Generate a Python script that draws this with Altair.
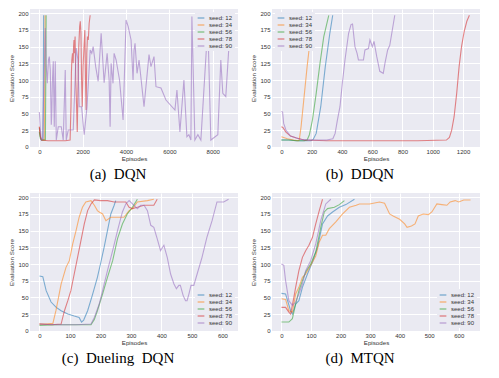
import altair as alt
import pandas as pd

SEEDS = ["seed: 12", "seed: 34", "seed: 56", "seed: 78", "seed: 90"]
COLORS = ["#1f77b4", "#ff7f0e", "#2ca02c", "#d62728", "#9467bd"]
Y_TICKS = [0, 25, 50, 75, 100, 125, 150, 175, 200]

# ---------------- (a) DQN ----------------
A_EP_12 = [0, 50, 100, 170, 185, 200]
A_SC_12 = [28, 14, 10, 10, 95, 197]
A_EP_34 = [0, 50, 100, 230, 250, 265]
A_SC_34 = [30, 15, 10, 10, 100, 197]
A_EP_56 = [0, 50, 100, 280, 300, 315]
A_SC_56 = [22, 12, 10, 10, 110, 197]
A_EP_78 = [0, 50, 100, 400, 800, 1200, 1420, 1460, 1480, 1500, 1530, 1560, 1580, 1600,
           1620, 1650, 1680, 1720, 1750, 1780, 1820, 1860, 1890, 1920, 1950, 1980, 2020,
           2060, 2100, 2130, 2160, 2190, 2220, 2260, 2300, 2345]
A_SC_78 = [30, 15, 10, 9, 9, 9, 10, 60, 110, 130, 140, 125, 150, 160,
           140, 165, 100, 60, 22, 80, 150, 180, 188, 170, 100, 60, 120,
           150, 175, 100, 55, 140, 165, 160, 185, 197]
A_EP_90 = [0, 40, 90, 150, 276, 320, 368, 420, 460, 506, 552, 575, 600, 644, 690, 736,
           782, 874, 1012, 1104, 1196, 1242, 1334, 1564, 1650, 1702, 1780, 1840, 1950,
           2070, 2200, 2346, 2420, 2484, 2600, 2714, 2852, 2990, 3128, 3220, 3266, 3312,
           3400, 3450, 3542, 3700, 3864, 4002, 4100, 4232, 4324, 4370, 4416, 4508, 4600,
           4830, 5060, 5150, 5290, 5382, 5612, 5842, 6256, 6348, 6486, 6670, 6808, 6900,
           6992, 7038, 7176, 7314, 7452, 7774, 7912, 8234, 8372, 8464, 8602, 8832]
A_SC_90 = [52, 30, 10, 12, 178, 120, 95, 130, 135, 115, 33, 50, 95, 128, 30, 128,
           10, 30, 30, 10, 115, 10, 25, 25, 100, 148, 130, 60, 60,
           18, 60, 145, 140, 150, 120, 98, 170, 96, 140, 100, 30, 125,
           95, 140, 130, 100, 40, 190, 180, 160, 100, 145, 155, 110, 130,
           60, 138, 120, 135, 90, 88, 70, 55, 85, 22, 100, 15, 18,
           10, 195, 10, 18, 10, 183, 10, 18, 130, 80, 75, 195]

# ---------------- (b) DDQN ----------------
B_EP_12 = [0, 50, 100, 150, 195, 210, 230, 260, 290, 320, 339]
B_SC_12 = [10, 10, 9, 9, 9, 11, 20, 60, 120, 170, 197]
B_EP_34 = [0, 40, 80, 110, 118, 130, 150, 170, 190, 214]
B_SC_34 = [15, 12, 10, 9, 10, 30, 75, 120, 160, 197]
B_EP_56 = [0, 50, 100, 150, 170, 185, 205, 230, 255, 280, 313]
B_SC_56 = [10, 10, 9, 9, 10, 18, 40, 80, 125, 165, 197]
B_EP_78 = [0, 10, 30, 60, 100, 150, 300, 600, 900, 1090, 1110, 1125, 1141, 1158, 1174,
           1190, 1207, 1225, 1242]
B_SC_78 = [30, 29, 22, 16, 13, 10, 9, 9, 9, 10, 14, 25, 45, 80, 120,
           150, 172, 188, 197]
B_EP_90 = [0, 8, 15, 30, 60, 100, 130, 200, 300, 340, 355, 370, 387, 405, 420, 444, 460,
           470, 486, 500, 509, 542, 552, 575, 585, 601, 612, 630, 650, 673, 684, 702, 716, 749]
B_SC_90 = [53, 52, 35, 25, 16, 13, 11, 10, 10, 12, 20, 40, 60, 100, 130, 170, 183,
           184, 150, 140, 130, 130, 145, 147, 160, 150, 158, 135, 113, 110, 125, 145, 152, 197]

# ---------------- (c) Dueling DQN ----------------
C_EP_12 = [0, 11, 22, 38, 55, 71, 93, 114, 130, 138, 145, 158, 174, 190, 200, 212, 223,
           234, 245, 250]
C_SC_12 = [82, 81, 60, 43, 35, 30, 25, 22, 20, 13, 16, 30, 54, 80, 100, 125, 150,
           175, 188, 195]
C_EP_34 = [0, 20, 44, 54, 71, 87, 98, 109, 120, 130, 141, 152, 169, 180, 190, 196, 207,
           218, 234, 256, 277, 294, 305, 321, 354, 375]
C_SC_34 = [10, 10, 11, 30, 70, 95, 105, 130, 150, 170, 185, 193, 195, 188, 180, 178, 175,
           165, 170, 170, 170, 180, 183, 193, 195, 197]
C_EP_56 = [0, 60, 120, 169, 180, 190, 207, 223, 240, 256, 272, 288, 305, 321]
C_SC_56 = [8, 9, 9, 9, 17, 30, 55, 80, 105, 138, 160, 175, 185, 197]
C_EP_78 = [0, 40, 71, 82, 93, 103, 114, 125, 136, 147, 158, 169, 180, 200, 223, 245, 266,
           283, 294, 305, 321, 343, 354, 375, 386]
C_SC_78 = [10, 9, 10, 30, 45, 60, 85, 110, 135, 160, 180, 190, 196, 195, 195, 193, 193,
           193, 185, 183, 185, 188, 188, 188, 197]
C_EP_90 = [0, 60, 120, 169, 180, 196, 207, 223, 240, 256, 272, 283, 294, 305, 321, 332,
           343, 354, 365, 375, 386, 397, 408, 419, 430, 441, 449, 457, 462, 471, 479, 484,
           490, 497, 506, 517, 533, 549, 566, 582, 604, 620]
C_SC_90 = [10, 9, 9, 10, 20, 40, 60, 90, 120, 150, 178, 190, 195, 190, 183, 188,
           188, 180, 158, 155, 138, 120, 128, 110, 85, 70, 63, 68, 68, 53, 45, 45,
           55, 68, 68, 85, 110, 140, 165, 193, 193, 197]

# ---------------- (d) MTQN ----------------
D_EP_12 = [0, 14, 31, 37, 48, 59, 71, 88, 105, 122, 139, 156, 173, 196, 218, 247]
D_SC_12 = [56, 55, 30, 25, 40, 45, 65, 85, 103, 125, 160, 172, 178, 185, 189, 197]
D_EP_34 = [0, 14, 25, 37, 48, 59, 71, 82, 99, 116, 128, 139, 150, 162, 184, 207, 230, 253,
           264, 298, 332, 349, 366, 378, 400, 417, 425, 440, 452, 463, 480, 497, 509, 526,
           543, 560, 571, 588, 600, 617, 640]
D_SC_34 = [48, 47, 30, 28, 55, 65, 80, 85, 98, 112, 133, 143, 143, 153, 163, 175, 185, 188,
           190, 190, 193, 191, 175, 172, 167, 160, 155, 157, 160, 172, 175, 174, 178, 190,
           189, 188, 193, 195, 193, 196, 196]
D_EP_56 = [0, 25, 37, 48, 59, 71, 82, 99, 116, 133, 145, 156, 179, 196, 213]
D_SC_56 = [13, 13, 18, 40, 60, 75, 88, 100, 118, 155, 178, 183, 185, 189, 195]
D_EP_78 = [0, 14, 25, 31, 42, 48, 59, 71, 82, 93, 105, 116, 128, 139]
D_SC_78 = [35, 35, 28, 25, 50, 65, 90, 110, 120, 128, 140, 160, 180, 197]
D_EP_90 = [0, 8, 14, 25, 37, 48, 59, 71, 82, 99, 116, 133, 150, 167]
D_SC_90 = [100, 98, 75, 45, 38, 43, 55, 70, 90, 105, 130, 165, 190, 197]


def frame(series):
    rows = []
    for seed, (eps, scs) in zip(SEEDS, series):
        for i, (e, s) in enumerate(zip(eps, scs)):
            rows.append({"seed": seed, "ep": e, "score": s, "order": i})
    return pd.DataFrame(rows)


def panel(df, xdom, xticks, orient, caption):
    legend = alt.Legend(orient=orient, title=None)
    return alt.Chart(df).mark_line(strokeWidth=1.1, opacity=0.55).encode(
        x=alt.X("ep:Q",
                scale=alt.Scale(domain=xdom, nice=False, zero=False),
                axis=alt.Axis(values=xticks, title="Episodes", format="d")),
        y=alt.Y("score:Q",
                scale=alt.Scale(domain=[-0.4, 206.4], nice=False, zero=False),
                axis=alt.Axis(values=Y_TICKS, title="Evaluation Score")),
        color=alt.Color("seed:N", scale=alt.Scale(domain=SEEDS, range=COLORS), legend=legend),
        order="order:Q",
    ).properties(
        width=208, height=138,
        title=alt.TitleParams(caption, orient="bottom", frame="group", anchor="middle",
                              dx=-16, offset=6, font="Liberation Serif", fontSize=15,
                              fontWeight="normal", color="black"),
    )


pa = panel(frame([(A_EP_12, A_SC_12), (A_EP_34, A_SC_34), (A_EP_56, A_SC_56),
                  (A_EP_78, A_SC_78), (A_EP_90, A_SC_90)]),
           [-430, 9165], [0, 2000, 4000, 6000, 8000], "top-right", "(a)\u00a0 DQN")
pb = panel(frame([(B_EP_12, B_SC_12), (B_EP_34, B_SC_34), (B_EP_56, B_SC_56),
                  (B_EP_78, B_SC_78), (B_EP_90, B_SC_90)]),
           [-62, 1312], [0, 200, 400, 600, 800, 1000, 1200], "top-left", "(b)\u00a0 DDQN")
pc = panel(frame([(C_EP_12, C_SC_12), (C_EP_34, C_SC_34), (C_EP_56, C_SC_56),
                  (C_EP_78, C_SC_78), (C_EP_90, C_SC_90)]),
           [-31, 651], [0, 100, 200, 300, 400, 500, 600], "bottom-right",
           "(c)\u00a0 Dueling\u00a0 DQN")
pd_ = panel(frame([(D_EP_12, D_SC_12), (D_EP_34, D_SC_34), (D_EP_56, D_SC_56),
                   (D_EP_78, D_SC_78), (D_EP_90, D_SC_90)]),
            [-32, 672], [0, 100, 200, 300, 400, 500, 600], "bottom-right", "(d)\u00a0 MTQN")

row1 = alt.hconcat(pa, pb, spacing=12).resolve_scale(color="independent", x="independent", y="independent").resolve_legend(color="independent")
row2 = alt.hconcat(pc, pd_, spacing=12).resolve_scale(color="independent", x="independent", y="independent").resolve_legend(color="independent")

chart = alt.vconcat(row1, row2, spacing=10).resolve_scale(
    color="independent", x="independent", y="independent"
).resolve_legend(color="independent").properties(
    padding={"left": 0, "top": 1, "right": 0, "bottom": 0}
).configure_view(
    fill="#EAEAF2", stroke=None
).configure_axis(
    grid=True, gridColor="white", gridWidth=1, domain=False, ticks=False,
    labelFont="Liberation Sans", labelFontSize=6, labelColor="#333",
    titleFont="Liberation Sans", titleFontSize=6.2, titleFontWeight="normal", titleColor="#333",
    labelFlush=False,
).configure_axisX(
    labelPadding=1, titlePadding=1,
).configure_axisY(
    labelPadding=2, titlePadding=3,
).configure_legend(
    labelFont="Liberation Sans", labelFontSize=6, labelColor="#333",
    symbolType="stroke", symbolSize=45, symbolStrokeWidth=1.2, symbolOpacity=0.6,
    padding=2, offset=3, rowPadding=0, labelOffset=4, fillColor="#EAEAF2",
)

chart.save("out.html", embed_options={"renderer": "svg", "actions": False})
